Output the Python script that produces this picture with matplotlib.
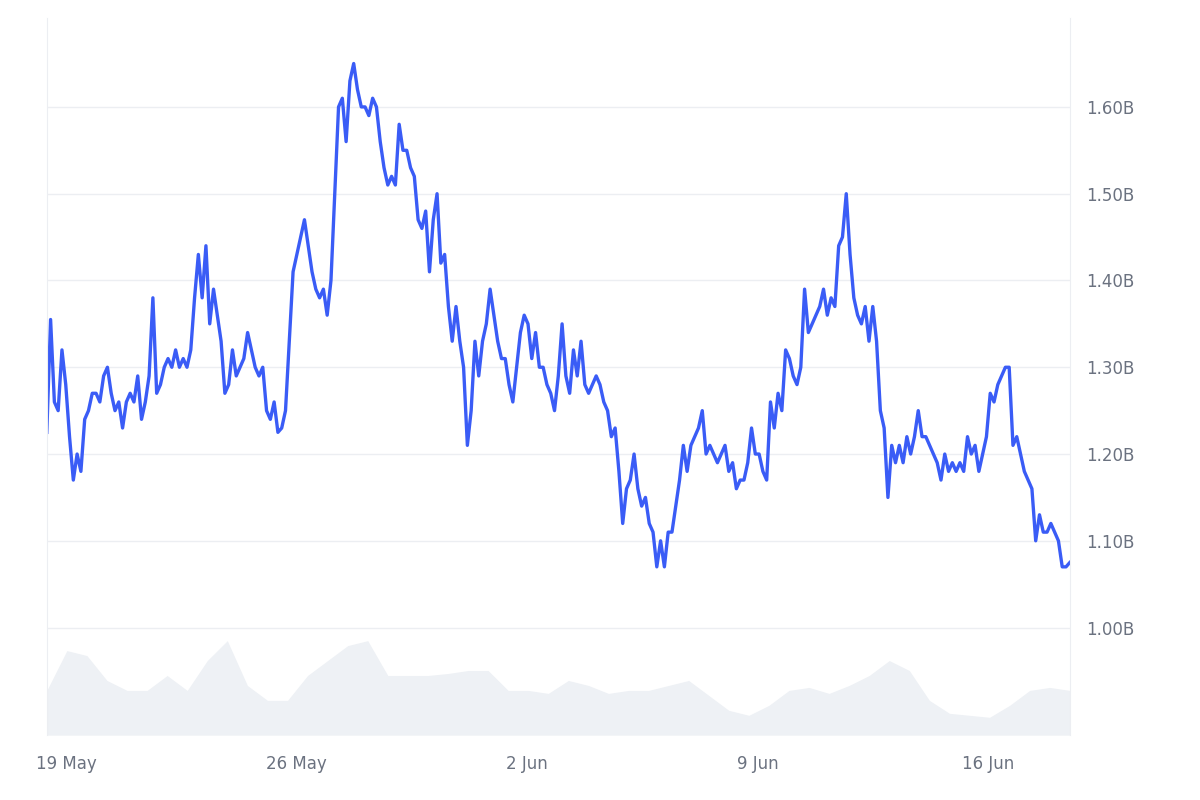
import numpy as np
import matplotlib
matplotlib.use('Agg')
import matplotlib.pyplot as plt

# market cap (B), sampled roughly every 3 hours from 18 May 10:00 to 18 Jun 11:00
cap = [1.225, 1.355, 1.26, 1.25, 1.32, 1.28, 1.22, 1.17, 1.20, 1.18, 1.24, 1.25, 1.27, 1.27, 1.26, 1.29,
       1.30, 1.27, 1.25, 1.26, 1.23, 1.26, 1.27, 1.26, 1.29, 1.24, 1.26, 1.29, 1.38, 1.27, 1.28, 1.30,
       1.31, 1.30, 1.32, 1.30, 1.31, 1.30, 1.32, 1.38, 1.43, 1.38, 1.44, 1.35, 1.39, 1.36, 1.33, 1.27,
       1.28, 1.32, 1.29, 1.30, 1.31, 1.34, 1.32, 1.30, 1.29, 1.30, 1.25, 1.24, 1.26, 1.225, 1.23, 1.25,
       1.33, 1.41, 1.43, 1.45, 1.47, 1.44, 1.41, 1.39, 1.38, 1.39, 1.36, 1.40, 1.50, 1.60, 1.61, 1.56,
       1.63, 1.65, 1.62, 1.60, 1.60, 1.59, 1.61, 1.60, 1.56, 1.53, 1.51, 1.52, 1.51, 1.58, 1.55, 1.55,
       1.53, 1.52, 1.47, 1.46, 1.48, 1.41, 1.47, 1.50, 1.42, 1.43, 1.37, 1.33, 1.37, 1.33, 1.30, 1.21,
       1.25, 1.33, 1.29, 1.33, 1.35, 1.39, 1.36, 1.33, 1.31, 1.31, 1.28, 1.26, 1.30, 1.34, 1.36, 1.35,
       1.31, 1.34, 1.30, 1.30, 1.28, 1.27, 1.25, 1.29, 1.35, 1.29, 1.27, 1.32, 1.29, 1.33, 1.28, 1.27,
       1.28, 1.29, 1.28, 1.26, 1.25, 1.22, 1.23, 1.18, 1.12, 1.16, 1.17, 1.20, 1.16, 1.14, 1.15, 1.12,
       1.11, 1.07, 1.10, 1.07, 1.11, 1.11, 1.14, 1.17, 1.21, 1.18, 1.21, 1.22, 1.23, 1.25, 1.20, 1.21,
       1.20, 1.19, 1.20, 1.21, 1.18, 1.19, 1.16, 1.17, 1.17, 1.19, 1.23, 1.20, 1.20, 1.18, 1.17, 1.26,
       1.23, 1.27, 1.25, 1.32, 1.31, 1.29, 1.28, 1.30, 1.39, 1.34, 1.35, 1.36, 1.37, 1.39, 1.36, 1.38,
       1.37, 1.44, 1.45, 1.50, 1.43, 1.38, 1.36, 1.35, 1.37, 1.33, 1.37, 1.33, 1.25, 1.23, 1.15, 1.21,
       1.19, 1.21, 1.19, 1.22, 1.20, 1.22, 1.25, 1.22, 1.22, 1.21, 1.20, 1.19, 1.17, 1.20, 1.18, 1.19,
       1.18, 1.19, 1.18, 1.22, 1.20, 1.21, 1.18, 1.20, 1.22, 1.27, 1.26, 1.28, 1.29, 1.30, 1.30, 1.21,
       1.22, 1.20, 1.18, 1.17, 1.16, 1.10, 1.13, 1.11, 1.11, 1.12, 1.11, 1.10, 1.07, 1.07, 1.075]

# volume (relative), evenly spaced over the same period
volume = [45, 85, 80, 55, 45, 45, 60, 45, 75, 95, 50, 35, 35, 60, 75, 90, 95, 60, 60, 60, 62, 65, 65, 45,
          45, 42, 55, 50, 42, 45, 45, 50, 55, 40, 25, 20, 30, 45, 48, 42, 50, 60, 75, 65, 35, 22, 20, 18,
          30, 45, 48, 45]

tick_days = [0, 7, 14, 21, 28]
tick_labels = ['19 May', '26 May', '2 Jun', '9 Jun', '16 Jun']
start_day, end_day = -0.58, 30.48  # days relative to 19 May

grey = '#6b7280'
fig = plt.figure(figsize=(12, 8), dpi=100)
ax = fig.add_axes([0.039, 0.081, 0.8525, 0.896])

axv = ax.twinx()
vx = np.linspace(start_day, end_day, len(volume))
axv.fill_between(vx, volume, color='#eef1f5', lw=0)
axv.set_ylim(0, 720)
axv.set_yticks([])
for s in axv.spines.values():
    s.set_visible(False)

ax.set_zorder(axv.get_zorder() + 1)
ax.patch.set_visible(False)
cx = np.linspace(start_day, end_day, len(cap))
ax.plot(cx, cap, color='#3a5cf6', lw=2.4, solid_joinstyle='round')

ax.set_xlim(start_day, end_day)
ax.set_ylim(0.876, 1.702)
ax.yaxis.tick_right()
ax.set_yticks([1.0, 1.1, 1.2, 1.3, 1.4, 1.5, 1.6])
ax.set_yticklabels([f'{v:.2f}B' for v in [1.0, 1.1, 1.2, 1.3, 1.4, 1.5, 1.6]])
ax.set_xticks(tick_days)
ax.set_xticklabels(tick_labels)
ax.tick_params(length=0, labelsize=12, colors=grey, pad=14)
ax.tick_params(axis='y', pad=12)
ax.grid(axis='y', color='#eceef2', lw=1)
for k in ['top', 'bottom']:
    ax.spines[k].set_visible(False)
for k in ['left', 'right']:
    ax.spines[k].set_color('#eceef2')

fig.savefig('out.png', dpi=100)
